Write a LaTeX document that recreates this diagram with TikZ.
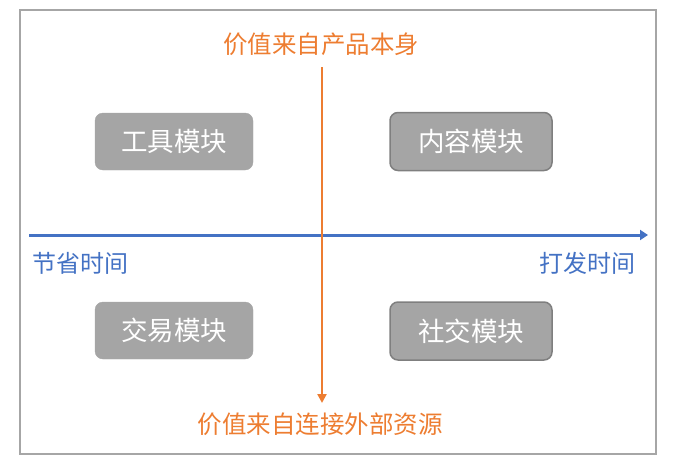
\documentclass[tikz,border=0pt]{standalone}
\usepackage{fontspec}
\setmainfont{Noto Sans CJK SC}
\usetikzlibrary{arrows.meta}
\definecolor{axorange}{HTML}{ED7D31}
\definecolor{axblue}{HTML}{4472C4}
\definecolor{boxgray}{HTML}{A5A5A5}
\definecolor{edgegray}{HTML}{7F7F7F}
\definecolor{framegray}{HTML}{A6A6A6}
\begin{document}
\begin{tikzpicture}[x=1pt,y=-1pt,
  modbox/.style={fill=boxgray,draw=boxgray,rounded corners=8pt,text=white,
    font=\fontsize{26.5}{28}\selectfont,inner sep=0pt,minimum width=158pt,minimum height=57pt},
  modboxedge/.style={modbox,draw=edgegray,line width=1.5pt,minimum width=162pt,minimum height=58pt},
  orangelabel/.style={text=axorange,font=\fontsize{24.5}{28}\selectfont,inner sep=0pt},
  bluelabel/.style={text=axblue,font=\fontsize{24}{26}\selectfont,inner sep=0pt}]
\useasboundingbox (0,0) rectangle (674,466);
\draw[framegray,line width=1.8pt] (20,10) rectangle (656,454);
% axes
\coordinate (hl) at (29,235);
\coordinate (hr) at (648,235);
\coordinate (vt) at (322,67);
\coordinate (vb) at (322,403);
\draw[axblue,line width=3pt,-{Triangle[length=8pt,width=10pt]}] (hl) -- (hr);
\draw[axorange,line width=2.5pt,-{Triangle[length=9pt,width=9pt]}] (vt) -- (vb);
% labels
\node[orangelabel] (top) at (321,44) {价值来自产品本身};
\node[orangelabel] (bot) at (320,424) {价值来自连接外部资源};
\node[bluelabel] (save) at (80,263) {节省时间};
\node[bluelabel] (kill) at (587,263) {打发时间};
% boxes
\node[modbox] (tool) at (174,141.5) {工具模块};
\node[modboxedge] (content) at (471,141.5) {内容模块};
\node[modbox] (trade) at (174,330.5) {交易模块};
\node[modboxedge] (social) at (471,331) {社交模块};
\end{tikzpicture}
\end{document}
